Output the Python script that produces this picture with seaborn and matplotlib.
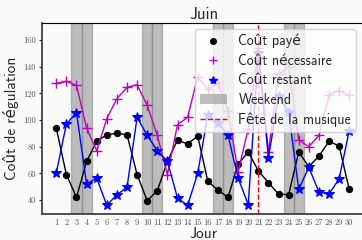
import matplotlib
matplotlib.use("Agg")
import matplotlib.pyplot as plt
from matplotlib.lines import Line2D
from matplotlib.patches import Patch
import seaborn as sns
import pandas as pd

# Données (juin)
jours = list(range(1, 31))
cout_paye = [94, 59, 42, 69, 84, 89, 90, 89, 59, 39.5, 47, 69, 85, 82, 88,
             54, 47.5, 42, 67, 76, 62, 53, 44.5, 44, 76, 65, 73, 84, 80.5, 48]
cout_necessaire = [127.5, 129, 126, 94, 77, 101, 116, 124.5, 126.5, 111, 88.5, 59, 96.5, 102, 132.5,
                   123, 127.5, 107, 61, 93.5, 154, 76, 134.5, 139.5, 85, 80, 88.5, 119, 122, 118.5]
cout_restant = [60.5, 97, 105.5, 52, 56.5, 36, 44, 49.5, 102, 88.5, 77, 69, 41.5, 36, 60,
                104, 98, 88.5, 56.5, 36.5, 150, 71.5, 118, 106, 48, 64.5, 46, 44.5, 56, 92]
weekends = [3, 4, 10, 11, 17, 18, 24, 25]
fete_musique = 21
yticks = [40, 60, 80, 100, 120, 140, 160]

df = pd.DataFrame({"jour": jours, "paye": cout_paye,
                   "necessaire": cout_necessaire, "restant": cout_restant})

sns.set_theme(style="ticks")
plt.rcParams["font.family"] = ["cmss10", "DejaVu Sans"]
plt.rcParams["axes.unicode_minus"] = False

noir, magenta, bleu = "#000000", "#bf00bf", "#0000ff"
bg = "#fafafa"
fig = plt.figure(figsize=(3.62, 2.40), dpi=100, facecolor=bg)
ax = fig.add_axes([41.7 / 362, 1 - 214.3 / 240, (365 - 41.7) / 362, (214.3 - 22.7) / 240])
ax.set_facecolor(bg)

# Weekends en gris
for d in weekends:
    ax.axvspan(d - 0.5, d + 0.5, color="#808080", alpha=0.5, zorder=0)

sns.lineplot(data=df, x="jour", y="paye", color=noir, marker="o", markersize=4.5,
             markeredgecolor=noir, linewidth=1, ax=ax, zorder=2)
sns.lineplot(data=df, x="jour", y="necessaire", color=magenta, marker="+", markersize=7,
             markeredgecolor=magenta, markeredgewidth=1, linewidth=1, ax=ax, zorder=2)
sns.lineplot(data=df, x="jour", y="restant", color=bleu, marker="*", markersize=7,
             markeredgecolor=bleu, linewidth=1, ax=ax, zorder=2)

ax.axvline(fete_musique, color="red", linestyle="--", linewidth=1, zorder=3)

ax.set_xlim(-0.445, 31.56)
ax.set_ylim(29.3, 173)
ax.set_xticks(jours)
ax.set_yticks(yticks)
ax.tick_params(axis="x", length=0, pad=3, labelsize=6, labelcolor="#555555")
ax.tick_params(axis="y", length=2.5, width=0.8, pad=1.5, labelsize=6, labelcolor="#555555")
for lab in ax.get_xticklabels() + ax.get_yticklabels():
    lab.set_fontfamily("cmr10")

ax.set_title("Juin", fontsize=12, pad=3)
ax.set_xlabel("Jour", fontsize=11, labelpad=0)
ax.set_ylabel("Coût de régulation", fontsize=11, labelpad=3)

for s in ["left", "bottom"]:
    ax.spines[s].set_color("#404040")
    ax.spines[s].set_linewidth(1.3)
ax.spines["top"].set_color("black")
ax.spines["top"].set_linewidth(0.8)
ax.spines["right"].set_visible(False)

handles = [
    Line2D([], [], color=noir, marker="o", linestyle="none", markersize=4),
    Line2D([], [], color=magenta, marker="+", linestyle="none", markersize=6),
    Line2D([], [], color=bleu, marker="*", linestyle="none", markersize=6),
    Patch(facecolor="#808080", alpha=0.5, edgecolor="none"),
    Line2D([], [], color="red", linestyle="--", linewidth=1),
]
labels = ["Coût payé", "Coût nécessaire", "Coût restant", "Weekend", "Fête de la musique"]
leg = ax.legend(handles, labels, loc="upper right", bbox_to_anchor=(356 / 362, 1 - 29 / 240),
                bbox_transform=fig.transFigure, borderaxespad=0, fontsize=10,
                labelspacing=0.4, borderpad=0.35,
                frameon=True, fancybox=True, framealpha=0.8, edgecolor="#cccccc")
leg.set_zorder(5)

fig.savefig("out.png", dpi=100, facecolor=fig.get_facecolor())
